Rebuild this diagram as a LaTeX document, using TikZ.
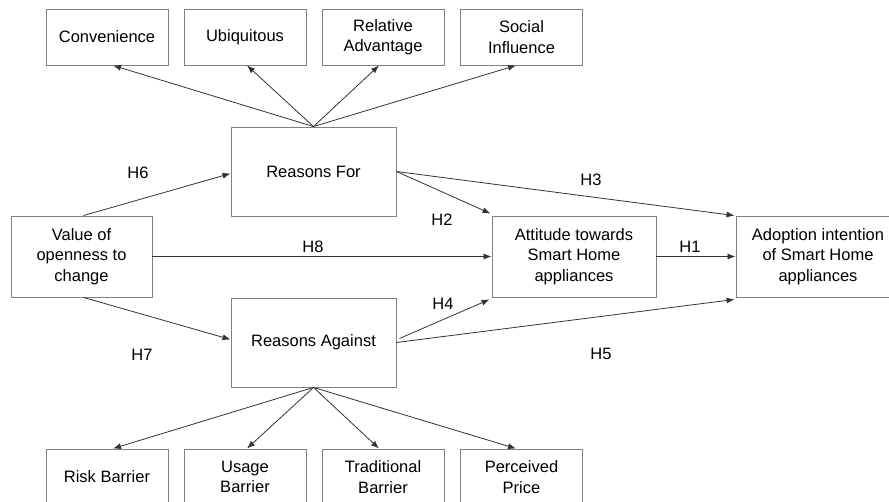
\documentclass[tikz,border=0pt]{standalone}
\usepackage{fontspec}
\setmainfont{Liberation Sans}
\usetikzlibrary{arrows.meta,calc}
\begin{document}
\begin{tikzpicture}[x=1pt,y=-1pt,
  box/.style={draw=black!50,line width=0.9pt,inner sep=0pt,align=center,
    font=\fontsize{16.5}{20.5}\selectfont},
  small/.style={box,minimum width=122pt,minimum height=56pt},
  mid/.style={box,minimum width=165pt,minimum height=89pt},
  big/.style={box,minimum width=164pt,minimum height=81pt},
  arr/.style={draw=black!80,line width=0.8pt,-{Latex[length=8pt,width=6pt]}},
  hlab/.style={font=\fontsize{16.5}{20.5}\selectfont,inner sep=0pt}]
\useasboundingbox (0,0) rectangle (889,502);
\clip (0,0) rectangle (889,502);
% top boxes
\node[small] (conv) at (107,37) {Convenience};
\node[small] (ubiq) at (245,37) {Ubiquitous};
\node[small] (rel) at (383,37) {Relative\\Advantage};
\node[small] (soc) at (521.5,37) {Social\\Influence};
% middle
\node[mid] (rfor) at (313.5,171.5) {Reasons For};
\node[box,minimum width=141pt,minimum height=81pt] (val) at (81.5,256.5) {Value of\\openness to\\change};
\node[big] (att) at (574,256.5) {Attitude towards\\Smart Home\\appliances};
\node[big] (adopt) at (818,256.5) {Adoption intention\\of Smart Home\\appliances};
\node[mid] (ragn) at (313.5,342.5) {Reasons Against};
% bottom boxes
\node[small] (risk) at (107,477) {Risk Barrier};
\node[small] (usage) at (245,477) {Usage\\Barrier};
\node[small] (trad) at (383,477) {Traditional\\Barrier};
\node[small] (price) at (521.5,477) {Perceived\\Price};
% arrows top
\draw[arr] (rfor.north) -- ($(conv.south)+(6,0)$);
\draw[arr] (rfor.north) -- ($(ubiq.south)+(2,0)$);
\draw[arr] (rfor.north) -- ($(rel.south)+(-4,0)$);
\draw[arr] (rfor.north) -- ($(soc.south)+(-5.5,0)$);
% arrows bottom
\draw[arr] (ragn.south) -- ($(risk.north)+(6,0)$);
\draw[arr] (ragn.south) -- ($(usage.north)+(2,0)$);
\draw[arr] (ragn.south) -- ($(trad.north)+(-4,0)$);
\draw[arr] (ragn.south) -- ($(price.north)+(-5.5,0)$);
% hypotheses
\draw[arr] ($(val.north)+(2,0)$) -- ($(rfor.west)+(0,2)$);
\draw[arr] ($(val.south)+(2,0)$) -- ($(ragn.west)+(0,-3)$);
\draw[arr] (val.east) -- (att.west);
\draw[arr] (att.east) -- (adopt.west);
\draw[arr] (rfor.east) -- ($(att.north west)+(-1,-2)$);
\draw[arr] (rfor.east) -- ($(adopt.north west)+(-1,0)$);
\draw[arr] ($(ragn.east)+(3,-4)$) -- ($(att.south west)+(-2,2)$);
\draw[arr] (ragn.east) -- ($(adopt.south west)+(-1,2)$);
% labels
\node[hlab] (h6) at (138,173) {H6};
\node[hlab] (h7) at (142,355) {H7};
\node[hlab] (h8) at (313,247) {H8};
\node[hlab] (h2) at (442,220) {H2};
\node[hlab] (h3) at (591,180) {H3};
\node[hlab] (h1) at (690,247) {H1};
\node[hlab] (h4) at (443,304) {H4};
\node[hlab] (h5) at (601,354) {H5};
\end{tikzpicture}
\end{document}
